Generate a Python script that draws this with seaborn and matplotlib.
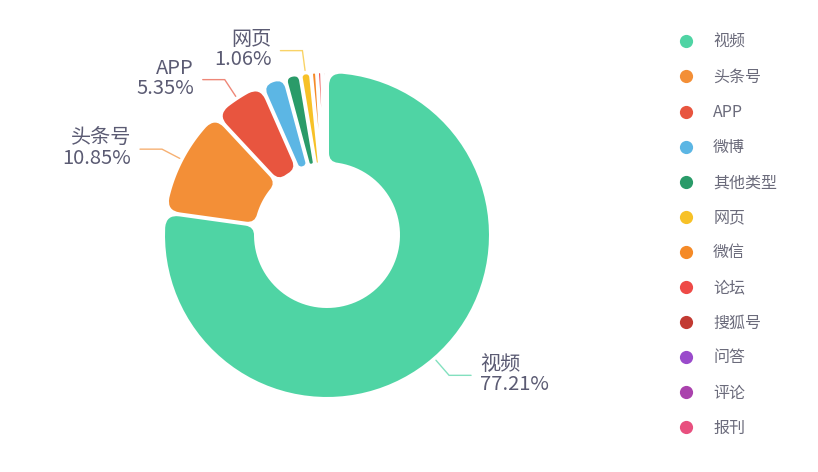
import numpy as np
import matplotlib
matplotlib.use("Agg")
import matplotlib.pyplot as plt
from matplotlib.path import Path
from matplotlib.patches import PathPatch
from matplotlib.lines import Line2D
import seaborn as sns

# ---------------- data ----------------
categories = ['视频', '头条号', 'APP', '微博', '其他类型', '网页',
              '微信', '论坛', '搜狐号', '问答', '评论', '报刊']
shares = [77.21, 10.85, 5.35, 2.40, 1.55, 1.06,
          0.60, 0.50, 0.40, 0.05, 0.02, 0.01]
colors = ['#4fd4a4', '#f38f37', '#e8553f', '#5cb6e4', '#2a9b69', '#f7c127',
          '#f58a27', '#ee4a47', '#c23a32', '#9a4bcb', '#aa42ad', '#e8507f']
labeled = ['视频', '头条号', 'APP', '网页']

# ---------------- style ----------------
sns.set_theme(style='white')
plt.rcParams['font.family'] = ['Noto Sans CJK SC', 'DejaVu Sans']
TEXT = '#5b5b73'

W, H = 818, 472
fig = plt.figure(figsize=(W / 100, H / 100), dpi=100, facecolor='white')
ax = fig.add_axes([0, 0, 1, 1])

cx, cy = 327, H - 235
r_out, r_in = 162, 73
half_gap = 2.0
corner_out, corner_in = 13.0, 9.0

wedges, _ = ax.pie(shares, startangle=90, counterclock=False, radius=r_out,
                   center=(cx, cy), colors=colors,
                   wedgeprops=dict(width=r_out - r_in), frame=True)
ax.set_xlim(0, W)
ax.set_ylim(0, H)
ax.set_aspect('equal')
ax.axis('off')


def rounded_sector(c, a1, a2, rin, rout, hg, rco, rci, n=80):
    a1, a2 = np.radians(a1), np.radians(a2)
    c = np.asarray(c, float)
    u1 = np.array([np.cos(a1), np.sin(a1)])
    u2 = np.array([np.cos(a2), np.sin(a2)])

    def pol(R, t):
        return c + R * np.array([np.cos(t), np.sin(t)])

    oA = a1 + np.arcsin(min(hg / rout, 1))
    oB = a2 - np.arcsin(min(hg / rout, 1))
    if oB <= oA:
        return None
    A, B = pol(rout, oA), pol(rout, oB)
    half = (a2 - a1) / 2
    collapsed = half < np.pi / 2 and hg / np.sin(half) >= rin
    if collapsed:
        Rs = hg / np.sin(half)
        P = pol(Rs, (a1 + a2) / 2)
        L = np.linalg.norm(A - P)
    else:
        iD = a1 + np.arcsin(hg / rin)
        iC = a2 - np.arcsin(hg / rin)
        C, D = pol(rin, iC), pol(rin, iD)
        L = np.linalg.norm(A - D)
    Lo = rout * (oB - oA)
    tA = min(rco, 0.45 * Lo, 0.45 * L)
    verts, codes = [], []
    if collapsed:
        verts.append(P); codes.append(Path.MOVETO)
    else:
        Li = rin * (iC - iD)
        ti = min(rci, 0.45 * Li, 0.45 * L)
        start = D + ti * u1
        verts.append(start); codes.append(Path.MOVETO)
    verts.append(A - tA * u1); codes.append(Path.LINETO)
    verts += [A, pol(rout, oA + tA / rout)]; codes += [Path.CURVE3] * 2
    ts = np.linspace(oA + tA / rout, oB - tA / rout, n)
    for t in ts[1:]:
        verts.append(pol(rout, t)); codes.append(Path.LINETO)
    verts += [B, B - tA * u2]; codes += [Path.CURVE3] * 2
    if collapsed:
        verts.append(P); codes.append(Path.LINETO)
    else:
        verts.append(C + ti * u2); codes.append(Path.LINETO)
        verts += [C, pol(rin, iC - ti / rin)]; codes += [Path.CURVE3] * 2
        ts = np.linspace(iC - ti / rin, iD + ti / rin, n)
        for t in ts[1:]:
            verts.append(pol(rin, t)); codes.append(Path.LINETO)
        verts += [D, start]; codes += [Path.CURVE3] * 2
    verts.append(verts[0]); codes.append(Path.CLOSEPOLY)
    return Path(np.array(verts), codes)


for w, col in zip(wedges, colors):
    w.set_visible(False)
    p = rounded_sector(w.center, w.theta1, w.theta2, w.r - w.width, w.r,
                       half_gap, corner_out, corner_in)
    if p is not None:
        ax.add_patch(PathPatch(p, facecolor=col, edgecolor='none',
                               antialiased=True, zorder=2))

# ---------------- labels with leader lines ----------------
for w, name, val, col in zip(wedges, categories, shares, colors):
    if name not in labeled:
        continue
    th = np.radians((w.theta1 + w.theta2) / 2)
    u = np.array([np.cos(th), np.sin(th)])
    c = np.asarray(w.center)
    p0 = c + (w.r + 4) * u
    p1 = c + (w.r + 24) * u
    side = 1 if u[0] >= 0 else -1
    p2 = p1 + np.array([side * 22, 0])
    ax.plot([p0[0], p1[0], p2[0]], [p0[1], p1[1], p2[1]], color=col,
            lw=1.0, alpha=0.7, solid_joinstyle='miter', zorder=1)
    ax.text(p2[0] + side * 9, p2[1] + 1, f'{name}\n{val:.2f}%',
            ha='left' if side > 0 else 'right', va='center',
            multialignment='left' if side > 0 else 'right',
            fontsize=14.5, color=TEXT, linespacing=0.95)

# ---------------- legend ----------------
handles = [Line2D([], [], marker='o', ls='', ms=9.5, color=c,
                  markeredgewidth=0) for c in colors]
leg = fig.legend(handles, categories, loc='upper left',
                 bbox_to_anchor=(678 / W, 1 - 34 / H), frameon=False,
                 fontsize=11.5, labelspacing=1.13, handlelength=1.0,
                 handletextpad=1.2, borderpad=0, borderaxespad=0)
for t in leg.get_texts():
    t.set_color('#6b6b7b')

fig.savefig('out.png', dpi=100, facecolor='white')
